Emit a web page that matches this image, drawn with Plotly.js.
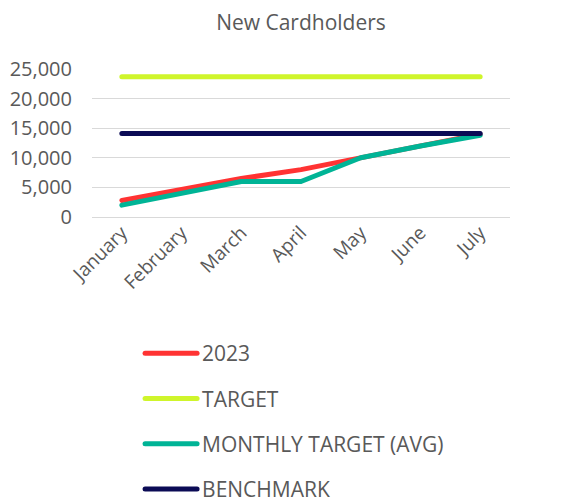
<!DOCTYPE html>
<html><head><meta charset="utf-8">
<script src="https://cdn.plot.ly/plotly-3.0.1.min.js"></script>
<style>html,body{margin:0;padding:0;background:#fff;}#chart{width:570px;height:497px;}</style>
</head><body><div id="chart"></div>
<script>
const months = ["January","February","March","April","May","June","July"];
const series2023 = [2800, 4700, 6500, 8000, 10000, 12000, 14000];
const target = [23700, 23700, 23700, 23700, 23700, 23700, 23700];
const monthlyTarget = [2000, 4000, 6000, 6000, 10000, 12000, 13800];
const benchmark = [14100, 14100, 14100, 14100, 14100, 14100, 14100];
const seriesNames = ["2023", "TARGET", "MONTHLY TARGET (AVG)", "BENCHMARK"];
const seriesColors = ["#FF3333", "#CFF52B", "#00B496", "#0B0B55"];
const seriesData = [series2023, target, monthlyTarget, benchmark];

const FONT = "'Open Sans', 'DejaVu Sans', sans-serif";
const TXT = "#595959";

const traces = seriesData.map((d, i) => ({
  x: months, y: d, name: seriesNames[i], type: "scatter", mode: "lines",
  line: {color: seriesColors[i], width: 5}, legendgroup: "g" + i
}));

const layout = {
  width: 570, height: 497,
  margin: {l: 92, r: 60, t: 69, b: 280, autoexpand: false},
  paper_bgcolor: "#fff", plot_bgcolor: "#fff",
  font: {family: FONT, color: TXT},
  title: {text: "New Cardholders", font: {family: FONT, size: 21, color: TXT}, xref: "paper", x: 0.5, xanchor: "center", y: 0.955, yanchor: "middle"},
  xaxis: {type: "category", range: [-0.5, 6.5], showgrid: false, zeroline: false, showline: false,
    tickangle: -45, tickfont: {family: FONT, size: 19, color: TXT}, ticks: "", fixedrange: true},
  yaxis: {range: [0, 25000], tickvals: [0, 5000, 10000, 15000, 20000, 25000], tickformat: ",d",
    showgrid: true, gridcolor: "#D9D9D9", gridwidth: 1, zeroline: true, zerolinecolor: "#D9D9D9", zerolinewidth: 1,
    showline: false, ticks: "outside", ticklen: 15, tickcolor: "rgba(0,0,0,0)",
    tickfont: {family: FONT, size: 20, color: TXT}, fixedrange: true},
  showlegend: true,
  legend: {orientation: "v", xref: "paper", x: 0.115, xanchor: "left", yref: "container", y: 0.33, yanchor: "top", traceorder: "grouped",
    tracegroupgap: 15, font: {family: FONT, size: 21, color: TXT}, itemwidth: 52, bgcolor: "rgba(0,0,0,0)"}
};

Plotly.newPlot("chart", traces, layout, {displayModeBar: false, staticPlot: true}).then(() => {
  document.querySelectorAll("#chart path.js-line, #chart .legendlines path").forEach(p => {
    p.style.strokeLinecap = "round"; p.style.strokeLinejoin = "round";
  });
});
</script></body></html>
